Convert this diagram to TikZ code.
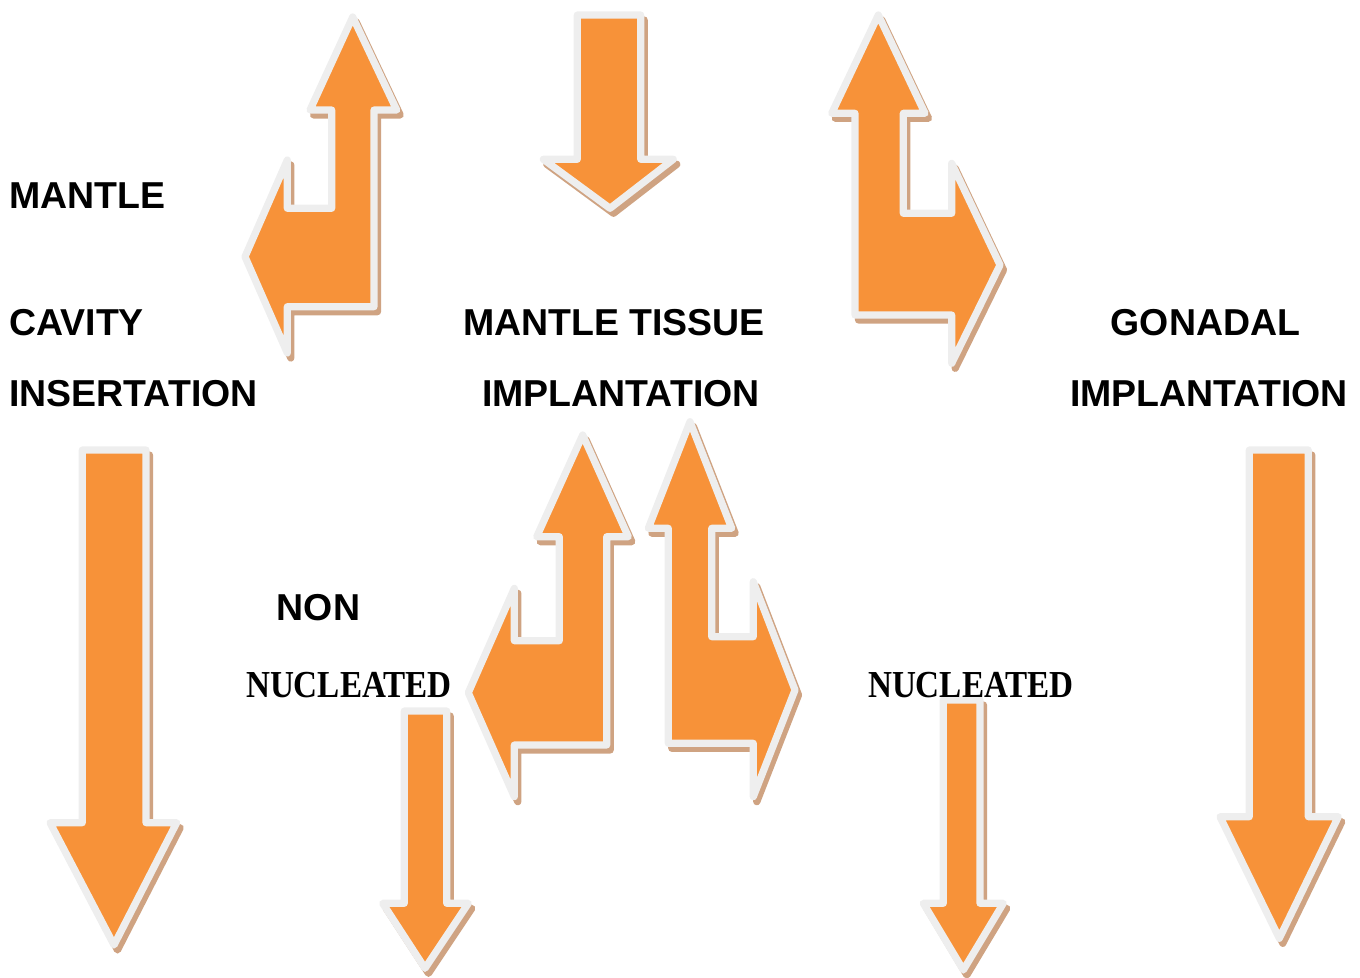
\documentclass[tikz,border=0pt]{standalone}
\usepackage{fontspec}
\usepackage{graphicx}
\setmainfont{Liberation Sans}
\newfontfamily\serifbold{Liberation Serif}
\definecolor{arrowfill}{HTML}{F79239}
\definecolor{arrowedge}{HTML}{EEEEEE}
\definecolor{arrowshadow}{HTML}{CFA382}
\tikzset{
  body/.style={fill=arrowfill, draw=arrowedge, line width=5.4pt, line join=round},
  shade/.style={fill=arrowshadow, draw=arrowshadow, line width=5.4pt, line join=round, shift={(3.5,5)}},
  lbl/.style={font=\fontsize{28.1}{30}\selectfont\bfseries, inner sep=0pt, anchor=base},
  lblserif/.style={font=\serifbold\fontsize{28.6}{30}\selectfont\bfseries, inner sep=0pt, anchor=base},
}
\newcommand\blockarrow[1]{\path[shade] #1; \path[body] #1;}
\begin{document}
\begin{tikzpicture}[x=0.75pt,y=-0.75pt]
\useasboundingbox (0,0) rectangle (1360,978);
% top-left: up and left
\blockarrow{(352.7,17) -- (396.7,110) -- (374,110) -- (374,306.7) -- (287.3,306.7) -- (287.3,353) -- (245,256.7) -- (287.3,160) -- (287.3,208.3) -- (331.7,208.3) -- (331.7,110) -- (310,110) -- cycle}
% top-centre: down
\blockarrow{(577.3,15) -- (640.7,15) -- (640.7,159.3) -- (673.3,159.3) -- (610,208.3) -- (543.3,159.3) -- (577.3,159.3) -- cycle}
% top-right: up and right
\blockarrow{(878.3,15) -- (925,113.3) -- (903.3,113.3) -- (903.3,213.3) -- (951.7,213.3) -- (951.7,163.3) -- (1000,265) -- (951.7,363.3) -- (951.7,315) -- (855,315) -- (855,113.3) -- (831.7,113.3) -- cycle}
% bottom-middle left: up and left
\blockarrow{(582.7,435) -- (628.3,536.7) -- (606.7,536.7) -- (606.7,745) -- (514.3,745) -- (514.3,796.7) -- (468.3,692.7) -- (514.3,588.3) -- (514.3,640.7) -- (559.3,640.7) -- (559.3,536.7) -- (536.7,536.7) -- cycle}
% bottom-middle right: up and right
\blockarrow{(690,421.7) -- (731.7,528.3) -- (711.7,528.3) -- (711.7,636.7) -- (753.3,636.7) -- (753.3,581.7) -- (795,690) -- (753.3,796.7) -- (753.3,743.3) -- (668.3,743.3) -- (668.3,528.3) -- (648.3,528.3) -- cycle}
% long down arrows
\blockarrow{(82.3,450) -- (146,450) -- (146,822.7) -- (176.7,822.7) -- (114,945) -- (50,822.7) -- (82.3,822.7) -- cycle}
\blockarrow{(1249.3,450) -- (1308.3,450) -- (1308.3,816.7) -- (1338.3,816.7) -- (1279.3,938.3) -- (1220,816.7) -- (1249.3,816.7) -- cycle}
% short down arrows
\blockarrow{(404.3,711) -- (446.7,711) -- (446.7,903.3) -- (468.3,903.3) -- (425,968.3) -- (382.7,903.3) -- (404.3,903.3) -- cycle}
\blockarrow{(943.3,700) -- (980,700) -- (980,903.3) -- (1003.3,903.3) -- (963.3,970) -- (923.3,903.3) -- (943.3,903.3) -- cycle}
% labels
\node[lbl, anchor=base west] (t1) at (9,208) {MANTLE};
\node[lbl, anchor=base west] (t2) at (9,335) {CAVITY};
\node[lbl, anchor=base west] (t3) at (9,406) {INSERTATION};
\node[lbl] (t4) at (614,335) {MANTLE TISSUE};
\node[lbl] (t5) at (621,406) {IMPLANTATION};
\node[lbl] (t6) at (1205.5,335) {GONADAL};
\node[lbl] (t7) at (1209,406) {IMPLANTATION};
\node[lbl] (t8) at (318.5,620) {NON};
\node[lblserif] (t9) at (349,697) {\scalebox{0.87}[1]{NUCLEATED}};
\node[lblserif] (t10) at (971,697) {\scalebox{0.87}[1]{NUCLEATED}};
\end{tikzpicture}
\end{document}
